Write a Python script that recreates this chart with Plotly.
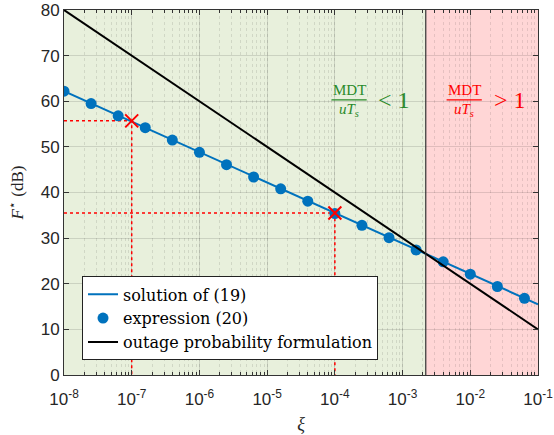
import plotly.graph_objects as go

# ---- data ----
xi_dots = [1e-8, 10**-7.6, 10**-7.2, 10**-6.8, 10**-6.4, 1e-6, 10**-5.6, 10**-5.2, 10**-4.8,
           10**-4.4, 1e-4, 10**-3.6, 10**-3.2, 10**-2.8, 10**-2.4, 1e-2, 10**-1.6, 10**-1.2]
F_dots = [62.2, 59.5, 56.8, 54.2, 51.5, 48.8, 46.1, 43.4, 40.8,
          38.1, 35.4, 32.8, 30.1, 27.4, 24.8, 22.1, 19.4, 16.8]
xi_sol = [1e-8, 1e-1]
F_sol = [62.2, 15.5]
xi_out = [1e-8, 1e-1]
F_out = [80.0, 10.0]
xi_marks = [1e-7, 1e-4]
F_marks = [55.7, 35.5]
xi_boundary = 2.2e-3
x_min, x_max = 1e-8, 1e-1
y_min, y_max = 0, 80
x_tick_vals = [1e-8, 1e-7, 1e-6, 1e-5, 1e-4, 1e-3, 1e-2, 1e-1]
x_tick_text = ["10<sup>-8</sup>", "10<sup>-7</sup>", "10<sup>-6</sup>", "10<sup>-5</sup>",
               "10<sup>-4</sup>", "10<sup>-3</sup>", "10<sup>-2</sup>", "10<sup>-1</sup>"]

blue = "#0072BD"
red = "#FF0000"
serif = "DejaVu Serif"
sans = "Liberation Sans"

fig = go.Figure()

# red dotted guide lines
for xm, fm in zip(xi_marks, F_marks):
    fig.add_trace(go.Scatter(x=[x_min, xm, xm], y=[fm, fm, y_min], mode="lines",
                             line=dict(color=red, width=1.5, dash="dot"),
                             showlegend=False, hoverinfo="skip"))

fig.add_trace(go.Scatter(x=xi_sol, y=F_sol, mode="lines", name="solution of (19)",
                         line=dict(color=blue, width=2)))
fig.add_trace(go.Scatter(x=xi_dots, y=F_dots, mode="markers", name="expression (20)",
                         marker=dict(color=blue, size=11)))
fig.add_trace(go.Scatter(x=xi_out, y=F_out, mode="lines", name="outage probability formulation",
                         line=dict(color="black", width=2)))
fig.add_trace(go.Scatter(x=xi_marks, y=F_marks, mode="markers", showlegend=False,
                         marker=dict(symbol="x-thin", size=13, color=red,
                                     line=dict(color=red, width=2))))

# shaded regions
fig.add_shape(type="rect", xref="x", yref="y", x0=x_min, x1=xi_boundary, y0=y_min, y1=y_max,
              fillcolor="#e8f0dc", line=dict(width=0), layer="below")
fig.add_shape(type="rect", xref="x", yref="y", x0=xi_boundary, x1=x_max, y0=y_min, y1=y_max,
              fillcolor="#ffd6d6", line=dict(width=0), layer="below")
fig.add_shape(type="line", xref="x", yref="y", x0=xi_boundary, x1=xi_boundary, y0=y_min, y1=y_max,
              line=dict(color="#333333", width=1.2), layer="above")

# fraction annotations
green = "#2a8a2a"
def frac(xc, xr, xb0, xb1, color, sym):
    fig.add_annotation(x=xc, y=62.4, xref="x", yref="y", text="MDT", showarrow=False,
                       font=dict(family="Liberation Serif", size=15, color=color))
    fig.add_annotation(x=xc, y=58.0, xref="x", yref="y", text="<i>uT<sub>s</sub></i>",
                       showarrow=False, font=dict(family="Liberation Serif", size=15, color=color))
    fig.add_shape(type="line", xref="x", yref="y", x0=10**xb0, x1=10**xb1, y0=60.3, y1=60.3,
                  line=dict(color=color, width=1.2))
    fig.add_annotation(x=xr, y=60.3, xref="x", yref="y", text=sym, showarrow=False,
                       font=dict(family="Liberation Serif", size=24, color=color))

frac(-3.79, -3.13, -4.05, -3.53, green, "&lt; 1")
frac(-2.09, -1.42, -2.35, -1.83, red, "&gt; 1")

fig.update_xaxes(type="log", range=[-8, -1], tickvals=x_tick_vals, ticktext=x_tick_text,
                 showgrid=True, gridcolor="rgba(0,0,0,0.12)", gridwidth=1,
                 ticks="inside", ticklen=5, tickcolor="#333", mirror="ticks",
                 showline=True, linecolor="#333", linewidth=1,
                 minor=dict(showgrid=True, gridcolor="rgba(0,0,0,0.10)", griddash="dot",
                            ticks="inside", ticklen=3, tickcolor="#333", dtick="D1"),
                 tickfont=dict(family=sans, size=17, color="#262626"),
                 ticklabelstandoff=9, ticklabeloverflow="allow", automargin=False,
                 title=dict(text="<i>ξ</i>", font=dict(family="Liberation Serif", size=18,
                                                       color="#262626"),
                            standoff=8),
                 zeroline=False)
fig.update_yaxes(range=[y_min, y_max], dtick=10,
                 showgrid=True, gridcolor="rgba(0,0,0,0.12)", gridwidth=1,
                 ticks="inside", ticklen=5, tickcolor="#333", mirror="ticks",
                 showline=True, linecolor="#333", linewidth=1, automargin=False,
                 tickfont=dict(family=sans, size=17, color="#262626"),
                 title=dict(text="<i>F</i><sup>⋆</sup> (dB)",
                            font=dict(family="Liberation Serif", size=17, color="#262626"),
                            standoff=12),
                 zeroline=False)

fig.update_layout(
    width=554, height=435,
    margin=dict(l=64, r=16, t=10, b=60, autoexpand=False),
    paper_bgcolor="white", plot_bgcolor="white",
    font=dict(family=serif, size=15, color="black"),
    legend=dict(x=0.038, y=0.04, xanchor="left", yanchor="bottom",
                bgcolor="white", bordercolor="#222", borderwidth=1,
                font=dict(family=serif, size=16, color="black"),
                tracegroupgap=0, itemwidth=30),
    showlegend=True,
)

fig.write_html("out.html")
